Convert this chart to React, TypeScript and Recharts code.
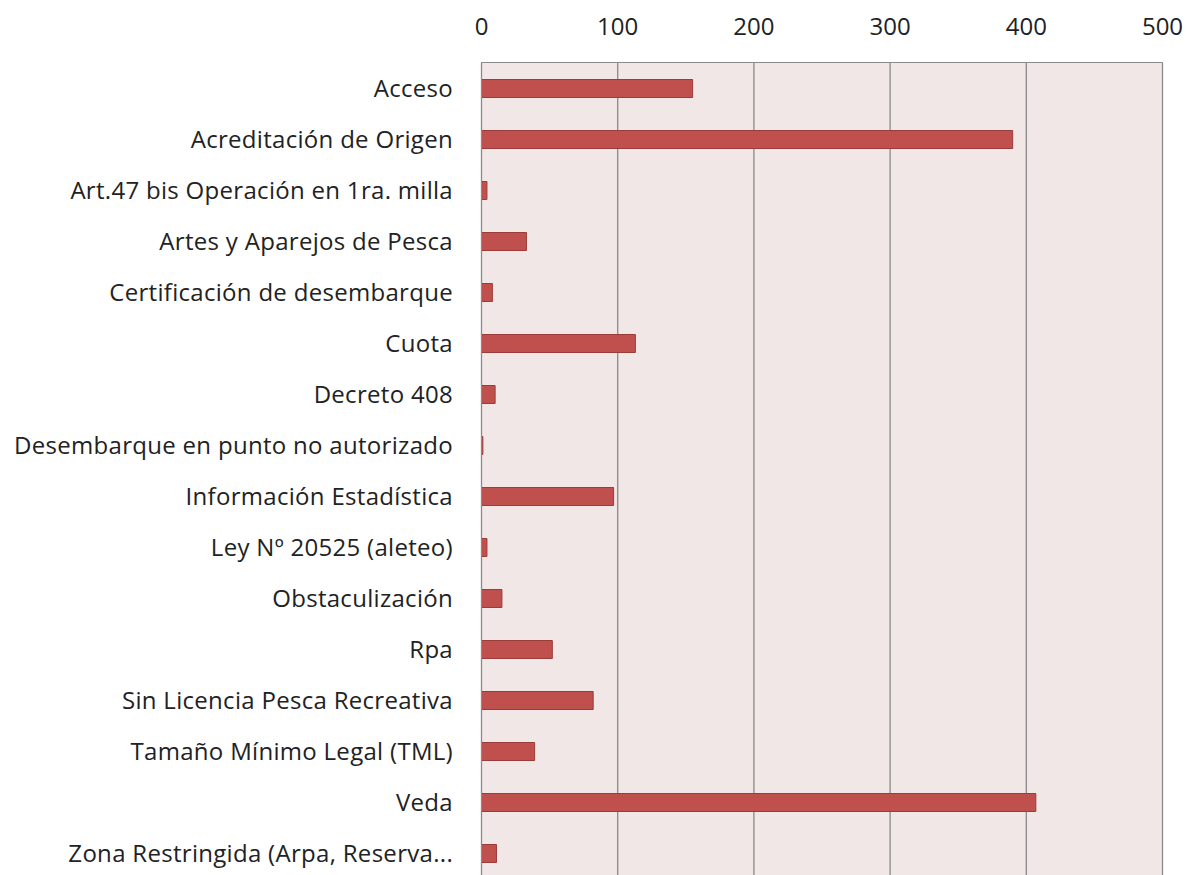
import { BarChart, Bar, XAxis, YAxis, CartesianGrid } from 'recharts'

// Infracciones por tipo (conteo)
const categories = [
  'Acceso',
  'Acreditación de Origen',
  'Art.47 bis Operación en 1ra. milla',
  'Artes y Aparejos de Pesca',
  'Certificación de desembarque',
  'Cuota',
  'Decreto 408',
  'Desembarque en punto no autorizado',
  'Información Estadística',
  'Ley Nº 20525 (aleteo)',
  'Obstaculización',
  'Rpa',
  'Sin Licencia Pesca Recreativa',
  'Tamaño Mínimo Legal (TML)',
  'Veda',
  'Zona Restringida (Arpa, Reserva...',
]

const counts = [155, 390, 4, 33, 8, 113, 10, 1, 97, 4, 15, 52, 82, 39, 407, 11]

const xTicks = [0, 100, 200, 300, 400, 500]

const data = categories.map((name, i) => ({ name, value: counts[i] }))

const FONT = '"Open Sans", Lato, sans-serif'
const AXIS_GRAY = '#8A8A8A'

export default function App() {
  return (
    <div style={{ position: 'absolute', left: 0, top: 0, width: 1187, height: 875, overflow: 'hidden', background: '#fff' }}>
      <BarChart
        width={1187}
        height={890}
        data={data}
        layout="vertical"
        margin={{ top: 2, right: 24.5, left: 0, bottom: 11.5 }}
        barSize={18}
      >
        <CartesianGrid fill="#F2E7E7" horizontal={false} stroke={AXIS_GRAY} strokeWidth={1.3} />
        <XAxis
          type="number"
          orientation="top"
          domain={[0, 500]}
          ticks={xTicks}
          height={60.5}
          tickLine={false}
          tickSize={0}
          tickMargin={28}
          stroke={AXIS_GRAY}
          tick={{ fill: '#222', fontSize: 24, fontFamily: FONT }}
        />
        <YAxis
          type="category"
          dataKey="name"
          width={481.5}
          interval={0}
          tickLine={false}
          tickSize={0}
          tickMargin={28.5}
          stroke={AXIS_GRAY}
          tick={{ fill: '#222', fontSize: 24, fontFamily: FONT, letterSpacing: 0.3 }}
        />
        <Bar dataKey="value" fill="#C0504D" stroke="#9A3C3A" strokeWidth={1} isAnimationActive={false} />
      </BarChart>
    </div>
  )
}
